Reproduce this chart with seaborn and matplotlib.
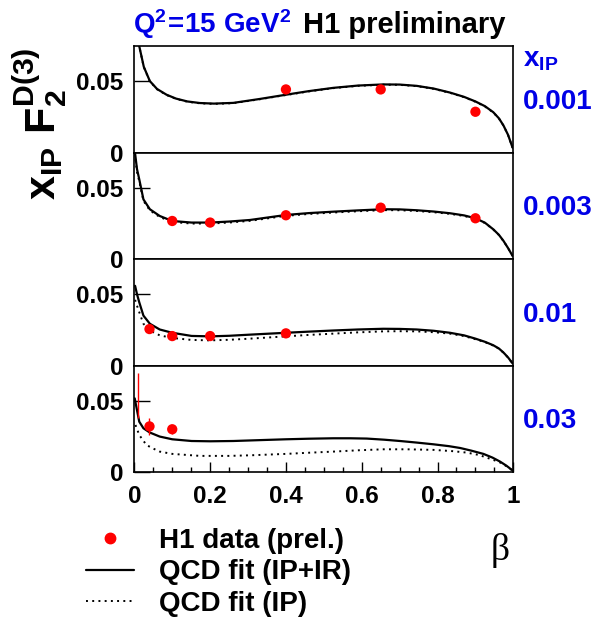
import matplotlib
matplotlib.use("Agg")
import matplotlib.pyplot as plt
from matplotlib.lines import Line2D
import seaborn as sns

# x_IP bins shown on the right of each panel
xpom_labels = ["0.001", "0.003", "0.01", "0.03"]

# H1 data points (beta, x_IP F2^D(3), error)
p1_beta = [0.4, 0.65, 0.9]
p1_f2 = [0.0442, 0.0442, 0.0286]
p1_err = [0.0015, 0.0015, 0.0015]

p2_beta = [0.1, 0.2, 0.4, 0.65, 0.9]
p2_f2 = [0.0267, 0.0256, 0.0307, 0.0360, 0.0286]
p2_err = [0.0012, 0.0012, 0.0012, 0.0015, 0.0015]

p3_beta = [0.04, 0.1, 0.2, 0.4]
p3_f2 = [0.0256, 0.0207, 0.0207, 0.0226]
p3_err = [0.0015, 0.0012, 0.0012, 0.0012]

p4_beta = [0.04, 0.1]
p4_f2 = [0.032, 0.030]
p4_err = [0.006, 0.003]
# point at the panel edge: only its error bar shows
p4_edge_beta = [0.011]
p4_edge_f2 = [0.0536]
p4_edge_err = [0.0159]

# QCD fit (IP+IR) solid, QCD fit (IP) dotted
p1_fit_beta = [0.008, 0.013, 0.025, 0.041, 0.06, 0.085, 0.11, 0.14, 0.173, 0.21, 0.261, 0.33, 0.40, 0.46,
               0.525, 0.59, 0.657, 0.70, 0.745, 0.79, 0.833, 0.87, 0.90, 0.925, 0.947, 0.962, 0.974, 0.986, 0.998]
p1_fit_full = [0.085, 0.0744, 0.060, 0.050, 0.0445, 0.0405, 0.0378, 0.0358, 0.0347, 0.0343, 0.0348, 0.0375,
               0.0405, 0.0430, 0.0453, 0.0469, 0.0477, 0.0476, 0.0467, 0.0448, 0.0420, 0.0390, 0.0358, 0.0325,
               0.0283, 0.0240, 0.0190, 0.0125, 0.0035]
p1_fit_ip = [0.085, 0.0742, 0.0598, 0.0498, 0.0443, 0.0403, 0.0376, 0.0356, 0.0345, 0.0341, 0.0346, 0.0373,
             0.0403, 0.0428, 0.0451, 0.0467, 0.0475, 0.0474, 0.0465, 0.0446, 0.0418, 0.0388, 0.0356, 0.0323,
             0.0281, 0.0239, 0.0189, 0.0124, 0.0035]

p2_fit_beta = [0.001, 0.007, 0.013, 0.024, 0.041, 0.067, 0.1, 0.151, 0.2, 0.25, 0.305, 0.4, 0.46, 0.525,
               0.59, 0.657, 0.70, 0.745, 0.79, 0.833, 0.87, 0.90, 0.925, 0.947, 0.962, 0.974, 0.986, 0.998]
p2_fit_full = [0.076, 0.063, 0.0558, 0.0418, 0.0349, 0.0302, 0.0267, 0.0256, 0.0256, 0.0263, 0.0274, 0.0309,
               0.0322, 0.0332, 0.0341, 0.0349, 0.0348, 0.0342, 0.0333, 0.0321, 0.0306, 0.0286, 0.0255, 0.0209,
               0.0170, 0.0128, 0.0078, 0.0023]
p2_fit_ip = [0.074, 0.061, 0.0545, 0.0408, 0.0341, 0.0295, 0.0260, 0.0249, 0.0249, 0.0256, 0.0268, 0.0303,
             0.0316, 0.0326, 0.0335, 0.0343, 0.0342, 0.0337, 0.0328, 0.0317, 0.0302, 0.0283, 0.0253, 0.0208,
             0.0169, 0.0127, 0.0078, 0.0023]

p3_fit_beta = [0.002, 0.007, 0.013, 0.024, 0.041, 0.067, 0.1, 0.151, 0.2, 0.25, 0.305, 0.4, 0.46, 0.525,
               0.59, 0.657, 0.70, 0.745, 0.79, 0.833, 0.87, 0.90, 0.925, 0.947, 0.962, 0.974, 0.986, 0.998]
p3_fit_full = [0.0558, 0.050, 0.0443, 0.035, 0.0293, 0.0253, 0.023, 0.0208, 0.0205, 0.0209, 0.0217, 0.023,
               0.0238, 0.0246, 0.0253, 0.0258, 0.0257, 0.0253, 0.0244, 0.023, 0.0212, 0.0189, 0.0167, 0.0143,
               0.0120, 0.0092, 0.0058, 0.0016]
p3_fit_ip = [0.046, 0.042, 0.0374, 0.0293, 0.0246, 0.0212, 0.0194, 0.0180, 0.0177, 0.0181, 0.0189, 0.0205,
             0.0215, 0.0224, 0.0233, 0.0240, 0.0241, 0.0240, 0.0234, 0.0224, 0.0207, 0.0185, 0.0165, 0.0141,
             0.0119, 0.0091, 0.0057, 0.0016]

p4_fit_beta = [0.001, 0.007, 0.013, 0.024, 0.041, 0.067, 0.1, 0.151, 0.2, 0.261, 0.33, 0.4, 0.46, 0.525,
               0.57, 0.613, 0.66, 0.701, 0.745, 0.789, 0.83, 0.86, 0.89, 0.921, 0.945, 0.965, 0.982, 0.998]
p4_fit_full = [0.0516, 0.0434, 0.0353, 0.0307, 0.0277, 0.0249, 0.023, 0.0218, 0.0216, 0.0218, 0.0224, 0.023,
               0.0234, 0.0237, 0.0237, 0.0235, 0.0227, 0.0218, 0.0207, 0.0195, 0.0182, 0.0169, 0.0150, 0.0128,
               0.0102, 0.0074, 0.0045, 0.0012]
p4_ip_beta = [0.003, 0.013, 0.032, 0.05, 0.067, 0.1, 0.173, 0.25, 0.305, 0.4, 0.46, 0.525, 0.59, 0.657,
              0.72, 0.789, 0.84, 0.877, 0.91, 0.947, 0.965, 0.982, 0.998]
p4_fit_ip = [0.033, 0.026, 0.019, 0.0165, 0.0144, 0.0128, 0.0114, 0.0114, 0.0118, 0.0128, 0.0136, 0.0144,
             0.0153, 0.0160, 0.0160, 0.0156, 0.0147, 0.0137, 0.0120, 0.0086, 0.0068, 0.0042, 0.0012]

panels = [
    (p1_beta, p1_f2, p1_err, p1_fit_beta, p1_fit_full, p1_fit_beta, p1_fit_ip),
    (p2_beta, p2_f2, p2_err, p2_fit_beta, p2_fit_full, p2_fit_beta, p2_fit_ip),
    (p3_beta, p3_f2, p3_err, p3_fit_beta, p3_fit_full, p3_fit_beta, p3_fit_ip),
    (p4_beta, p4_f2, p4_err, p4_fit_beta, p4_fit_full, p4_ip_beta, p4_fit_ip),
]

sns.set_theme(style="ticks")
plt.rcParams["font.family"] = ["Liberation Sans", "DejaVu Sans"]
plt.rcParams["font.weight"] = "bold"
plt.rcParams["text.color"] = "black"
plt.rcParams["axes.labelcolor"] = "black"
plt.rcParams["xtick.color"] = "black"
plt.rcParams["ytick.color"] = "black"
plt.rcParams["mathtext.fontset"] = "custom"
plt.rcParams["mathtext.rm"] = "Liberation Sans"
plt.rcParams["mathtext.bf"] = "Liberation Sans:bold"
plt.rcParams["mathtext.it"] = "Liberation Sans:bold"

BLUE = "#0000e6"
DOTS = (0, (1, 2.2))
fig = plt.figure(figsize=(6.04, 6.21), dpi=100)

left, width = 0.2224, 0.6275
height = 0.1715
bottoms = [0.7541, 0.5826, 0.4111, 0.2396]

axes = []
for i, (bx, fy, fe, sb, sv, db, dv) in enumerate(panels):
    ax = fig.add_axes([left, bottoms[i], width, height])
    sns.lineplot(x=sb, y=sv, ax=ax, color="black", lw=1.6, zorder=2)
    sns.lineplot(x=db, y=dv, ax=ax, color="black", lw=1.4, ls=DOTS, zorder=1)
    ax.errorbar(bx, fy, yerr=fe, fmt="none", ecolor="red", elinewidth=1.0, zorder=3)
    sns.scatterplot(x=bx, y=fy, ax=ax, color="red", s=55, edgecolor="none", zorder=4)
    if i == 3:
        ax.errorbar(p4_edge_beta, p4_edge_f2, yerr=p4_edge_err, fmt="none", ecolor="red",
                    elinewidth=1.0, zorder=3)
    ax.set_xlim(0, 1)
    ax.set_ylim(0, 0.0744)
    ax.set_yticks([0, 0.05])
    ax.set_yticklabels(["0", "0.05"])
    ax.tick_params(axis="y", direction="in", length=11.5, width=1, labelsize=17.5, pad=8,
                   right=False, colors="black")
    if i < 3:
        ax.tick_params(axis="x", bottom=False, labelbottom=False)
    else:
        ax.set_xticks([0, 0.2, 0.4, 0.6, 0.8, 1])
        ax.set_xticklabels(["0", "0.2", "0.4", "0.6", "0.8", "1"])
        ax.set_xticks([k * 0.05 for k in range(21)], minor=True)
        ax.tick_params(axis="x", which="major", direction="in", length=7, width=1,
                       labelsize=17.5, pad=9, top=False, colors="black")
        ax.tick_params(axis="x", which="minor", direction="in", length=3.5, width=1, top=False)
    for sp in ax.spines.values():
        sp.set_color("black")
        sp.set_linewidth(1.2)
    ax.set_xlabel("")
    ax.set_ylabel("")
    ax.text(1.025, 0.48, xpom_labels[i], transform=ax.transAxes, color=BLUE,
            fontsize=20, fontweight="bold", ha="left", va="center")
    axes.append(ax)

# header texts
fig.text(0.22, 0.947, r"$\mathbf{Q^{2}\!=\!15\ GeV^{2}}$", color=BLUE, fontsize=20, ha="left",
         va="baseline")
fig.text(0.502, 0.947, "H1 preliminary", color="black", fontsize=21, fontweight="bold",
         ha="left", va="baseline")
fig.text(0.866, 0.903, r"$\mathbf{x_{IP}}$", color=BLUE, fontsize=20, ha="left", va="center")

# axis titles
fig.text(0.067, 0.80, r"$\mathbf{x_{IP}\ F_{2}^{D(3)}}$", rotation=90, fontsize=31,
         ha="center", va="center", color="black")
fig.text(0.828, 0.114, "\u03b2", family=["Liberation Serif", "DejaVu Serif"], fontsize=27,
         fontweight="normal", ha="center", va="center", color="black")

# legend
handles = [
    Line2D([], [], color="red", marker="o", ls="none", markersize=7.5),
    Line2D([], [], color="black", lw=1.6),
    Line2D([], [], color="black", lw=1.4, ls=DOTS),
]
labels = ["H1 data (prel.)", "QCD fit (IP+IR)", "QCD fit (IP)"]
fig.legend(handles, labels, loc="upper left", bbox_to_anchor=(0.142, 0.150), frameon=False,
           handlelength=1.75, handletextpad=0.9, labelspacing=0.2,
           borderpad=0, borderaxespad=0, prop={"weight": "bold", "size": 20})

fig.savefig("out.png", dpi=100)
